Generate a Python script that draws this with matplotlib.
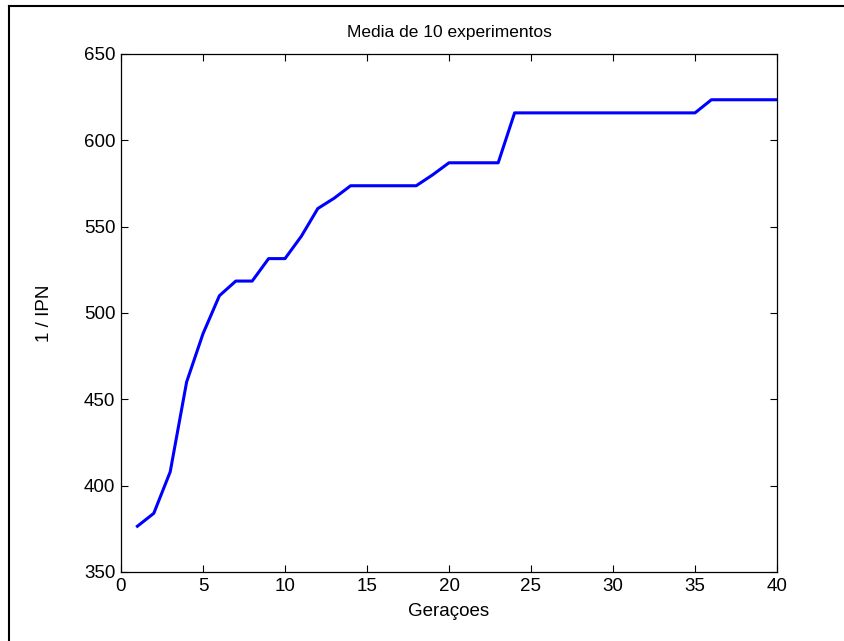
import matplotlib.pyplot as plt
from matplotlib.lines import Line2D

geracoes = list(range(1, 41))
ipn_inv = [376.5, 384, 408, 460, 488, 510, 518.5, 518.5, 531.5, 531.5,
           544.5, 560.5, 566.5, 573.7, 573.7, 573.7, 573.7, 573.7, 580, 587,
           587, 587, 587, 615.9, 615.9, 615.9, 615.9, 615.9, 615.9, 615.9,
           615.9, 615.9, 615.9, 615.9, 615.9, 623.5, 623.5, 623.5, 623.5, 623.5]

plt.rcParams['font.family'] = ['Liberation Sans', 'DejaVu Sans']

fig = plt.figure(figsize=(8.45, 6.41), dpi=100)
ax = fig.add_axes([121 / 845, 69 / 641, 656 / 845, 518 / 641])

ax.plot(geracoes, ipn_inv, color='#0000ff', linewidth=2.2)

ax.set_xlim(0, 40)
ax.set_ylim(350, 650)
ax.set_xticks(range(0, 41, 5))
ax.set_yticks(range(350, 651, 50))
ax.tick_params(direction='in', length=5, width=0.8, top=True, right=True,
               labelsize=13.5, pad=4)
for s in ax.spines.values():
    s.set_linewidth(0.9)

ax.set_title('Media de 10 experimentos', fontsize=12.5, pad=12)
ax.set_xlabel('Geraçoes', fontsize=13.5, labelpad=6)
ax.set_ylabel('1 / IPN', fontsize=13.5, labelpad=22)

# moldura da figura (so topo e esquerda visiveis)
fig.add_artist(Line2D([9 / 845, 1], [1 - 6 / 641, 1 - 6 / 641],
                      transform=fig.transFigure, color='black', linewidth=1.5))
fig.add_artist(Line2D([9 / 845, 9 / 845], [0, 1 - 6 / 641],
                      transform=fig.transFigure, color='black', linewidth=1.5))

fig.savefig('out.png', dpi=100)
